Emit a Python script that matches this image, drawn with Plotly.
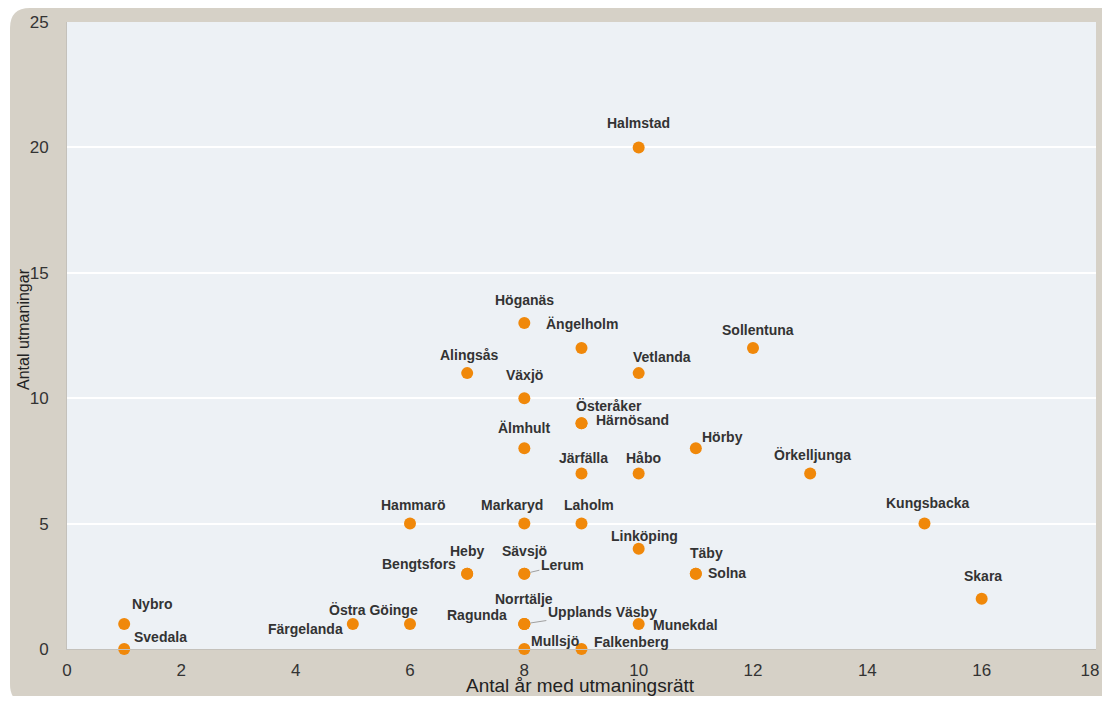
import plotly.graph_objects as go

# ---- data ----
kommuner = ["Halmstad", "Höganäs", "Ängelholm", "Sollentuna", "Alingsås", "Vetlanda",
            "Växjö", "Österåker", "Härnösand", "Älmhult", "Hörby", "Järfälla", "Håbo",
            "Örkelljunga", "Hammarö", "Markaryd", "Laholm", "Kungsbacka", "Linköping",
            "Heby", "Bengtsfors", "Sävsjö", "Lerum", "Täby", "Solna", "Skara",
            "Nybro", "Svedala", "Östra Göinge", "Färgelanda", "Ragunda", "Norrtälje",
            "Upplands Väsby", "Munekdal", "Mullsjö", "Falkenberg"]
ar_med_utmaningsratt = [10, 8, 9, 12, 7, 10,
                        8, 9, 9, 8, 11, 9, 10,
                        13, 6, 8, 9, 15, 10,
                        7, 7, 8, 8, 11, 11, 16,
                        1, 1, 6, 5, 8, 8,
                        8, 10, 8, 9]
antal_utmaningar = [20, 13, 12, 12, 11, 11,
                    10, 9, 9, 8, 8, 7, 7,
                    7, 5, 5, 5, 5, 4,
                    3, 3, 3, 3, 3, 3, 2,
                    1, 0, 1, 1, 1, 1,
                    1, 1, 0, 0]
x_ticks = [0, 2, 4, 6, 8, 10, 12, 14, 16, 18]
y_ticks = [0, 5, 10, 15, 20, 25]

# ---- label placement (pixel offsets: dx right, dy up) ----
label_offsets = {
    "Halmstad": (0, 24), "Höganäs": (0, 23), "Ängelholm": (0, 24), "Sollentuna": (5, 18),
    "Alingsås": (2, 18), "Vetlanda": (23, 16), "Växjö": (0, 23), "Österåker": (27, 17),
    "Härnösand": (51, 3), "Älmhult": (0, 20), "Hörby": (27, 11), "Järfälla": (2, 15),
    "Håbo": (5, 15), "Örkelljunga": (2, 18), "Hammarö": (3, 19), "Markaryd": (-12, 19),
    "Laholm": (7, 19), "Kungsbacka": (3, 21), "Linköping": (6, 13), "Heby": (0, 23),
    "Bengtsfors": (-48, 10), "Sävsjö": (0, 23), "Lerum": (38, 9), "Täby": (11, 21),
    "Solna": (31, 1), "Skara": (1, 23), "Nybro": (28, 20), "Svedala": (36, 12),
    "Östra Göinge": (-37, 14), "Färgelanda": (-47, -5), "Ragunda": (-47, 9),
    "Norrtälje": (0, 25), "Upplands Väsby": (78, 12), "Munekdal": (47, -1),
    "Mullsjö": (31, 8), "Falkenberg": (50, 7),
}
leader_labels = {"Lerum", "Upplands Väsby"}

# page body has an 8px margin on every side; keep the figure inside the window
OFF = 8
W, H = 1110 - 2 * OFF, 704 - 2 * OFF
ML, MT = 67 - OFF, 22 - OFF
MR = W - (1096 - OFF)
MB = H - (649 - OFF)
PW, PH = W - ML - MR, H - MT - MB


def px(xp):
    """window pixel x -> paper x"""
    return (xp - OFF - ML) / PW


def py(yp):
    """window pixel y -> paper y"""
    return (H - MB - (yp - OFF)) / PH


fig = go.Figure()
fig.add_trace(go.Scatter(
    x=ar_med_utmaningsratt, y=antal_utmaningar, mode="markers",
    marker=dict(color="#f0880a", size=12, line=dict(width=0)),
    text=kommuner, hoverinfo="text", cliponaxis=False, showlegend=False,
))

annotations = []
label_font = dict(family="Arial, Liberation Sans, sans-serif", size=14, color="#333333")
for name, xv, yv in zip(kommuner, ar_med_utmaningsratt, antal_utmaningar):
    dx, dy = label_offsets[name]
    if name in leader_labels:
        annotations.append(dict(
            x=xv, y=yv, xref="x", yref="y", text="<b>%s</b>" % name,
            showarrow=True, ax=dx, ay=-dy, arrowhead=0, arrowwidth=1,
            arrowcolor="#a0a0a0", standoff=6, font=label_font,
        ))
    else:
        annotations.append(dict(
            x=xv, y=yv, xref="x", yref="y", text="<b>%s</b>" % name,
            showarrow=False, xshift=dx, yshift=dy, font=label_font,
            xanchor="center", yanchor="middle",
        ))

annotations.append(dict(
    x=px(23), y=py(329), xref="paper", yref="paper", text="Antal utmaningar",
    textangle=-90, showarrow=False, xanchor="center", yanchor="middle",
    font=dict(family="Arial, Liberation Sans, sans-serif", size=16, color="#222222"),
))
annotations.append(dict(
    x=px(580), y=py(686), xref="paper", yref="paper", text="Antal år med utmaningsrätt",
    showarrow=False, xanchor="center", yanchor="middle", borderpad=0,
    font=dict(family="Arial, Liberation Sans, sans-serif", size=19, color="#222222"),
))

# rounded beige frame + light plot panel
r = 20
x0, y0, x1, y1 = 10, 8, 1140, 704
path = (f"M {px(x0)},{py(y0 + r)} Q {px(x0)},{py(y0)} {px(x0 + r)},{py(y0)} "
        f"L {px(x1)},{py(y0)} L {px(x1)},{py(y1)} L {px(x0 + r)},{py(y1)} "
        f"Q {px(x0)},{py(y1)} {px(x0)},{py(y1 - r)} Z")
shapes = [
    dict(type="path", path=path, xref="paper", yref="paper", layer="below",
         fillcolor="#d6d1c7", line=dict(width=0)),
    dict(type="rect", x0=0, x1=1, y0=0, y1=1, xref="paper", yref="paper", layer="below",
         fillcolor="#edf1f5", line=dict(width=0)),
]

# the last x label sits at the very edge of the page; pad it on the right so it stays visible
x_ticktext = [str(t) for t in x_ticks]
x_ticktext[-1] = x_ticktext[-1] + "\u2002\u2009"

tick_font = dict(family="Arial, Liberation Sans, sans-serif", size=17, color="#333333")
fig.update_layout(
    width=W, height=H,
    margin=dict(l=ML, r=MR, t=MT, b=MB, pad=0, autoexpand=False),
    paper_bgcolor="white", plot_bgcolor="rgba(0,0,0,0)",
    shapes=shapes, annotations=annotations,
    xaxis=dict(range=[0, 18], tickvals=x_ticks, ticktext=x_ticktext,
               showgrid=False, zeroline=False, showline=True, linecolor="#c4c1bb",
               linewidth=1, ticks="", tickfont=tick_font, ticklabelstandoff=6,
               ticklabeloverflow="allow", fixedrange=True, automargin=False),
    yaxis=dict(range=[0, 25], tickvals=y_ticks, ticktext=[str(t) for t in y_ticks],
               showgrid=True, gridcolor="#ffffff", gridwidth=2, zeroline=False,
               showline=True, linecolor="#c4c1bb", linewidth=1, ticks="",
               tickfont=tick_font, ticklabelstandoff=14, ticklabeloverflow="allow",
               fixedrange=True, automargin=False),
    hovermode="closest",
)

fig.write_html("out.html")
